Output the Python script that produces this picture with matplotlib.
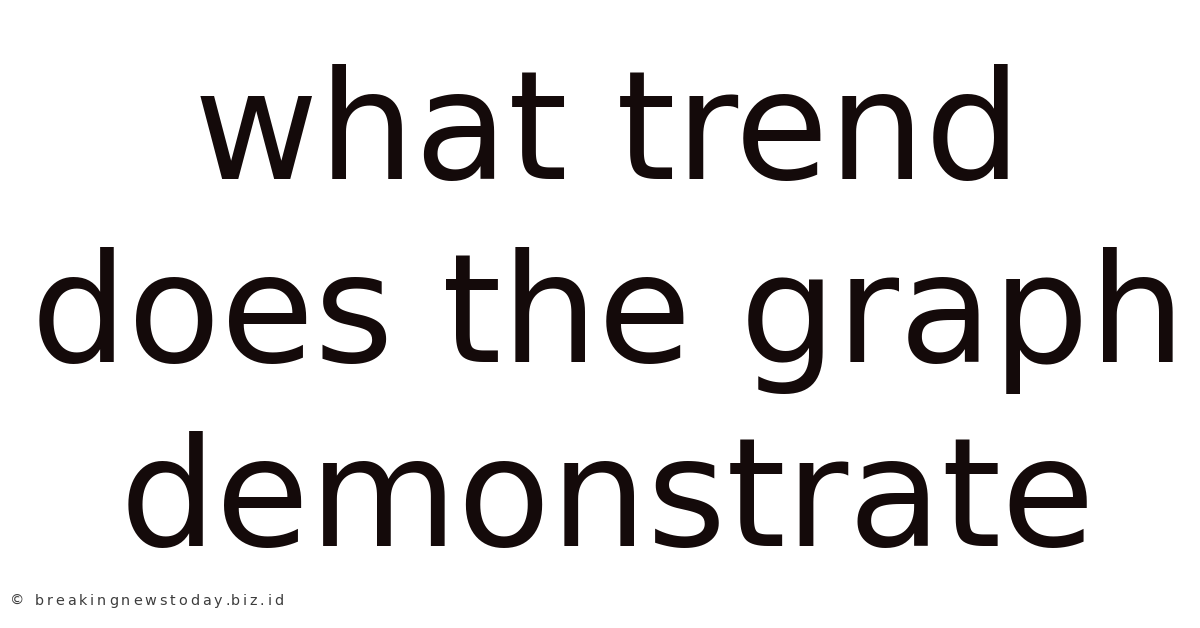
import matplotlib
matplotlib.use("Agg")
import matplotlib.pyplot as plt

title_lines = ["what trend", "does the graph", "demonstrate"]
baselines_px = [179, 362, 546]
footer = "© breakingnewstoday.biz.id"

W, H = 1200, 628
fig = plt.figure(figsize=(W / 100, H / 100), dpi=100)
fig.patch.set_facecolor("white")

for line, yb in zip(title_lines, baselines_px):
    fig.text(608 / W, 1 - yb / H, line, ha="center", va="baseline",
             fontsize=109.5, color="#140a0a", family="DejaVu Sans")

# footer with extra letter spacing
renderer = fig.canvas.get_renderer()
fs = 10.4
extra = 2.9  # px between characters
x0 = 10.0
yf = 1 - 605 / H


def width_px(s):
    t = fig.text(0, 0, s + "|", fontsize=fs, family="DejaVu Sans")
    w1 = t.get_window_extent(renderer).width
    t.remove()
    t = fig.text(0, 0, "|", fontsize=fs, family="DejaVu Sans")
    w2 = t.get_window_extent(renderer).width
    t.remove()
    return w1 - w2


for i, ch in enumerate(footer):
    x = x0 + width_px(footer[:i]) + i * extra
    fig.text(x / W, yf, ch, ha="left", va="baseline",
             fontsize=fs, color="#3c3c3c", family="DejaVu Sans")

fig.savefig("out.png", dpi=100, facecolor="white")
